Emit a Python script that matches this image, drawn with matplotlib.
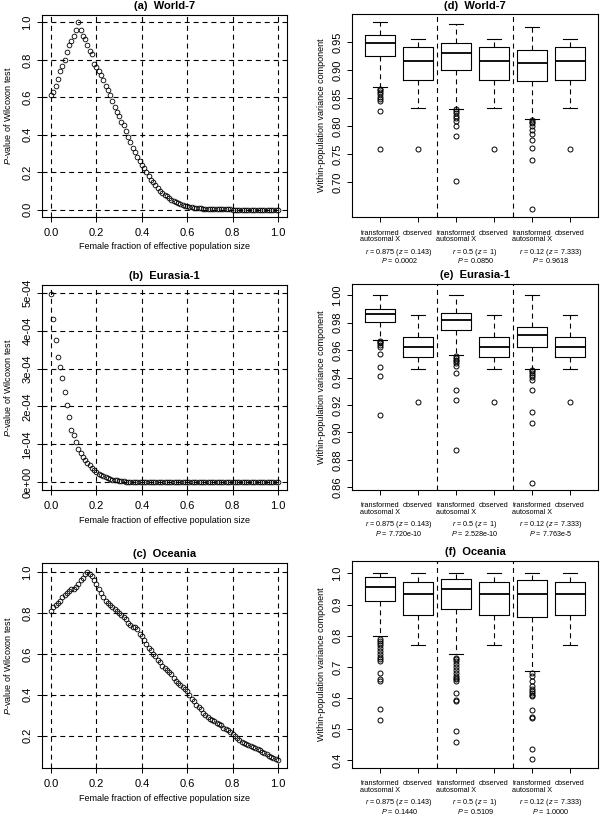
import numpy as np
import matplotlib
matplotlib.use("Agg")
import matplotlib.pyplot as plt

plt.rcParams['font.family'] = ['Liberation Sans', 'DejaVu Sans']
plt.rcParams['mathtext.fontset'] = 'custom'
plt.rcParams['mathtext.rm'] = 'Liberation Sans'
plt.rcParams['mathtext.it'] = 'Liberation Sans:italic'

# female fraction grid (0, 0.01, ... 1.0)
frac = [i / 100 for i in range(101)]

# (a) World-7 p-values
p_world = [0.61, 0.63, 0.66, 0.70, 0.74, 0.77, 0.80, 0.84, 0.88, 0.90,
           0.93, 0.96, 1.00, 0.96, 0.93, 0.91, 0.88, 0.85, 0.83, 0.78,
           0.76, 0.74, 0.72, 0.69, 0.66, 0.64, 0.61, 0.58, 0.55, 0.52,
           0.50, 0.47, 0.45, 0.42, 0.39, 0.36, 0.33, 0.31, 0.28, 0.26,
           0.24, 0.22, 0.20, 0.18, 0.16, 0.145, 0.13, 0.115, 0.10, 0.09,
           0.08, 0.07, 0.06, 0.052, 0.045, 0.04, 0.034, 0.029, 0.025, 0.021,
           0.018, 0.015, 0.012, 0.010, 0.008, 0.007, 0.006, 0.005, 0.004, 0.003,
           0.0025, 0.002, 0.0016, 0.0013, 0.001, 0.0008, 0.0006, 0.0005, 0.0004, 0.0003,
           0.0002, 0.0002, 0.0001, 0.0001, 0.0001, 0.0, 0.0, 0.0, 0.0, 0.0,
           0.0, 0.0, 0.0, 0.0, 0.0, 0.0, 0.0, 0.0, 0.0, 0.0, 0.0]

# (b) Eurasia-1 p-values (units of 1e-4)
p_eurasia = [4.95, 4.30, 3.75, 3.30, 3.03, 2.75, 2.38, 2.05, 1.72, 1.38,
             1.24, 1.06, 0.88, 0.78, 0.68, 0.60, 0.52, 0.45, 0.38, 0.32,
             0.27, 0.23, 0.19, 0.16, 0.13, 0.11, 0.09, 0.07, 0.06, 0.05,
             0.04, 0.033, 0.027, 0.022, 0.018, 0.014, 0.011, 0.009, 0.007, 0.005,
             0.004, 0.003, 0.002, 0.002, 0.001, 0.001, 0.001, 0.0, 0.0, 0.0,
             0.0, 0.0, 0.0, 0.0, 0.0, 0.0, 0.0, 0.0, 0.0, 0.0,
             0.0, 0.0, 0.0, 0.0, 0.0, 0.0, 0.0, 0.0, 0.0, 0.0,
             0.0, 0.0, 0.0, 0.0, 0.0, 0.0, 0.0, 0.0, 0.0, 0.0,
             0.0, 0.0, 0.0, 0.0, 0.0, 0.0, 0.0, 0.0, 0.0, 0.0,
             0.0, 0.0, 0.0, 0.0, 0.0, 0.0, 0.0, 0.0, 0.0, 0.0, 0.0]

# (c) Oceania p-values
p_oceania = [0.81, 0.83, 0.84, 0.85, 0.86, 0.88, 0.89, 0.90, 0.91, 0.92,
             0.92, 0.93, 0.94, 0.96, 0.97, 0.99, 1.00, 0.99, 0.98, 0.96,
             0.94, 0.92, 0.90, 0.88, 0.86, 0.85, 0.84, 0.83, 0.82, 0.81,
             0.80, 0.79, 0.78, 0.77, 0.75, 0.74, 0.73, 0.73, 0.72, 0.70,
             0.69, 0.67, 0.65, 0.63, 0.62, 0.60, 0.59, 0.57, 0.56, 0.54,
             0.53, 0.52, 0.51, 0.50, 0.48, 0.47, 0.46, 0.45, 0.44, 0.43,
             0.42, 0.40, 0.38, 0.37, 0.35, 0.34, 0.33, 0.31, 0.30, 0.29,
             0.28, 0.275, 0.27, 0.26, 0.255, 0.25, 0.24, 0.235, 0.23, 0.22,
             0.21, 0.20, 0.19, 0.18, 0.17, 0.165, 0.16, 0.155, 0.15, 0.145,
             0.14, 0.135, 0.13, 0.12, 0.115, 0.11, 0.10, 0.095, 0.09, 0.085, 0.08]

# box stats: (whislo, q1, med, q3, whishi, fliers)
world_obs = (0.833, 0.883, 0.917, 0.942, 0.955, [0.760])
world_r875 = (0.870, 0.925, 0.948, 0.962, 0.986,
              [0.867, 0.864, 0.861, 0.857, 0.852, 0.849, 0.845, 0.827, 0.760])
world_r5 = (0.831, 0.901, 0.930, 0.949, 0.982,
            [0.830, 0.827, 0.824, 0.819, 0.815, 0.809, 0.801, 0.782, 0.702])
world_r12 = (0.812, 0.880, 0.913, 0.936, 0.977,
             [0.811, 0.808, 0.805, 0.800, 0.794, 0.786, 0.776, 0.761, 0.740, 0.652])

eur_obs = (0.9464, 0.9549, 0.9622, 0.9693, 0.9859, [0.922])
eur_r875 = (0.9676, 0.9805, 0.9866, 0.9900, 1.0,
            [0.9669, 0.9659, 0.9649, 0.9637, 0.9622, 0.9574, 0.9474, 0.9415, 0.9128])
eur_r5 = (0.9562, 0.9744, 0.9817, 0.9871, 1.0,
          [0.9554, 0.9542, 0.9530, 0.9518, 0.9505, 0.9488, 0.9437, 0.9306, 0.9238, 0.8872])
eur_r12 = (0.9462, 0.9620, 0.9708, 0.9769, 1.0,
           [0.9457, 0.9445, 0.9432, 0.9420, 0.9403, 0.9379, 0.9306, 0.9152, 0.9067, 0.8633])

oce_obs = (0.771, 0.867, 0.934, 0.973, 1.0, [])
oce_r875 = (0.800, 0.912, 0.958, 0.989, 1.0,
            [0.790, 0.783, 0.777, 0.770, 0.760, 0.752, 0.740, 0.732, 0.725, 0.720,
             0.680, 0.660, 0.655, 0.565, 0.530])
oce_r5 = (0.742, 0.885, 0.949, 0.983, 1.0,
          [0.730, 0.725, 0.718, 0.710, 0.700, 0.690, 0.680, 0.670, 0.665, 0.660,
           0.655, 0.615, 0.595, 0.590, 0.495, 0.458])
oce_r12 = (0.688, 0.861, 0.934, 0.979, 1.0,
           [0.680, 0.672, 0.655, 0.640, 0.630, 0.622, 0.615, 0.610, 0.605, 0.560,
            0.540, 0.535, 0.438, 0.403])

box_labels = ["transformed\nautosomal X", "observed"] * 3
r_labels = [r"$\it{r}$ = 0.875 ($\it{z}$ = 0.143)", r"$\it{r}$ = 0.5 ($\it{z}$ = 1)",
            r"$\it{r}$ = 0.12 ($\it{z}$ = 7.333)"]
p_world_lab = ["0.0002", "0.0850", "0.9618"]
p_eur_lab = ["7.720e-10", "2.528e-10", "7.763e-5"]
p_oce_lab = ["0.1440", "0.5109", "1.0000"]

fig = plt.figure(figsize=(6, 8.15), dpi=100)

lx, lw_ = 42 / 600, 245 / 600
rx, rw = 352 / 600, 246 / 600
rows = [(0.7337, 0.2479), (0.3988, 0.2515), (0.0577, 0.2515)]

dash = (4.5, 3.5)


def style_axes(ax):
    for s in ax.spines.values():
        s.set_linewidth(0.8)
    ax.tick_params(direction='out', length=3.5, width=0.7, labelsize=8, pad=4.5)
    ax.tick_params(axis='y', labelrotation=90, pad=3.5)
    for t in ax.get_yticklabels():
        t.set_va('center')


def scatter_panel(rect, y, title, ylim, yticks, yticklabels):
    ax = fig.add_axes(rect)
    for v in [0, 0.2, 0.4, 0.6, 0.8, 1.0]:
        ax.axvline(v, color='black', lw=0.8, ls=(0, dash), zorder=1)
    for v in yticks:
        ax.axhline(v, color='black', lw=0.8, ls=(0, dash), zorder=1)
    ax.plot(frac, y, 'o', mfc='none', mec='black', ms=3.4, mew=0.6, zorder=2)
    ax.set_xlim(-0.04, 1.04)
    ax.set_ylim(*ylim)
    ax.set_xticks([0, 0.2, 0.4, 0.6, 0.8, 1.0], ["0.0", "0.2", "0.4", "0.6", "0.8", "1.0"])
    ax.set_yticks(yticks, yticklabels)
    style_axes(ax)
    ax.set_title(title, fontsize=8, fontweight='bold', pad=4)
    ax.set_xlabel("Female fraction of effective population size", fontsize=6.5)
    ax.set_ylabel(r"$\it{P}$-value of Wilcoxon test", fontsize=6.5)
    ax.xaxis.set_label_coords(0.5, -0.125)
    ax.yaxis.set_label_coords(-0.12, 0.5)
    return ax


def box_panel(rect, groups, title, ylim, yticks, yticklabels, p_labels):
    ax = fig.add_axes(rect)
    stats = []
    for g in groups:
        lo, q1, med, q3, hi, fl = g
        stats.append(dict(whislo=lo, q1=q1, med=med, q3=q3, whishi=hi, fliers=fl))
    pos = [1, 2, 3, 4, 5, 6]
    ax.bxp(stats, positions=pos, widths=0.8, capwidths=0.35, showfliers=True,
           boxprops=dict(color='black', lw=0.8),
           medianprops=dict(color='black', lw=1.3),
           whiskerprops=dict(color='black', lw=0.8, ls=(0, dash)),
           capprops=dict(color='black', lw=0.8),
           flierprops=dict(marker='o', mfc='none', mec='black', ms=3.6, mew=0.7))
    for v in [2.5, 4.5]:
        ax.axvline(v, color='black', lw=0.8, ls=(0, dash))
    ax.set_xlim(0.26, 6.74)
    ax.set_ylim(*ylim)
    ax.set_xticks(pos, box_labels)
    ax.set_yticks(yticks, yticklabels)
    style_axes(ax)
    ax.tick_params(axis='x', labelsize=5.2, pad=5.5)
    for t in ax.get_xticklabels():
        t.set_linespacing(0.85)
    ax.set_title(title, fontsize=8, fontweight='bold', pad=4)
    ax.set_ylabel("Within-population variance component", fontsize=6.5)
    ax.yaxis.set_label_coords(-0.105, 0.5)
    for i in range(3):
        xc = 1.5 + 2 * i
        ax.annotate(r_labels[i], xy=(xc, 0), xycoords=('data', 'axes fraction'),
                    xytext=(0, -25.2), textcoords='offset points',
                    ha='center', va='center', fontsize=5.2, annotation_clip=False)
        ax.annotate(r"$\it{P}$ = " + p_labels[i], xy=(xc, 0),
                    xycoords=('data', 'axes fraction'),
                    xytext=(0, -31.6), textcoords='offset points',
                    ha='center', va='center', fontsize=5.2, annotation_clip=False)
    return ax


scatter_panel([lx, rows[0][0], lw_, rows[0][1]], p_world, "(a)  World-7",
              (-0.04, 1.04), [0, 0.2, 0.4, 0.6, 0.8, 1.0],
              ["0.0", "0.2", "0.4", "0.6", "0.8", "1.0"])
scatter_panel([lx, rows[1][0], lw_, rows[1][1]], [v * 1e-4 for v in p_eurasia],
              "(b)  Eurasia-1", (-0.2e-4, 5.2e-4),
              [0, 1e-4, 2e-4, 3e-4, 4e-4, 5e-4],
              ["0e+00", "1e-04", "2e-04", "3e-04", "4e-04", "5e-04"])
scatter_panel([lx, rows[2][0], lw_, rows[2][1]], p_oceania, "(c)  Oceania",
              (0.042, 1.045), [0.2, 0.4, 0.6, 0.8, 1.0],
              ["0.2", "0.4", "0.6", "0.8", "1.0"])

box_panel([rx, 0.7337, rw, 0.249],
          [world_r875, world_obs, world_r5, world_obs, world_r12, world_obs],
          "(d)  World-7", (0.638, 1.0),
          [0.70, 0.75, 0.80, 0.85, 0.90, 0.95],
          ["0.70", "0.75", "0.80", "0.85", "0.90", "0.95"], p_world_lab)
box_panel([rx, 0.3988, rw, 0.2528],
          [eur_r875, eur_obs, eur_r5, eur_obs, eur_r12, eur_obs],
          "(e)  Eurasia-1", (0.858, 1.0083),
          [0.86, 0.88, 0.90, 0.92, 0.94, 0.96, 0.98, 1.00],
          ["0.86", "0.88", "0.90", "0.92", "0.94", "0.96", "0.98", "1.00"], p_eur_lab)
box_panel([rx, 0.0577, rw, 0.254],
          [oce_r875, oce_obs, oce_r5, oce_obs, oce_r12, oce_obs],
          "(f)  Oceania", (0.3755, 1.04),
          [0.4, 0.5, 0.6, 0.7, 0.8, 0.9, 1.0],
          ["0.4", "0.5", "0.6", "0.7", "0.8", "0.9", "1.0"], p_oce_lab)

fig.savefig("out.png", dpi=100)
